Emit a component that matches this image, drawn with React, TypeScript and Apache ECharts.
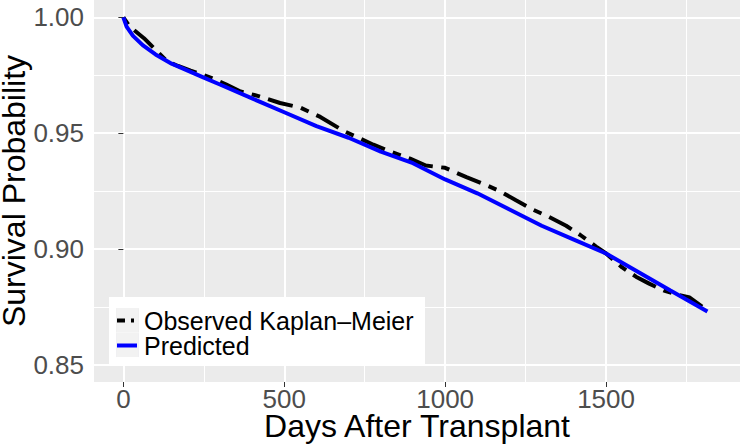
import React, { useEffect, useRef } from "react";
import * as echarts from "echarts";

const kmDays = [0, 20, 64, 100, 136, 170, 209, 271, 320, 364, 420, 487, 550, 612, 684, 730, 777, 830, 891, 940, 1000, 1066, 1120, 1169, 1220, 1272, 1320, 1376, 1420, 1469, 1500, 1550, 1593, 1634, 1680, 1727, 1760, 1799, 1815];
const kmSurv = [1.0, 0.996, 0.991, 0.986, 0.981, 0.979, 0.977, 0.974, 0.971, 0.968, 0.966, 0.963, 0.961, 0.957, 0.951, 0.948, 0.945, 0.942, 0.939, 0.936, 0.935, 0.931, 0.928, 0.925, 0.921, 0.917, 0.914, 0.91, 0.906, 0.901, 0.898, 0.892, 0.888, 0.885, 0.882, 0.88, 0.879, 0.875, 0.873];

const predDays = [0, 10, 30, 60, 100, 150, 200, 250, 300, 400, 500, 600, 700, 800, 900, 1000, 1100, 1200, 1300, 1400, 1500, 1600, 1700, 1815];
const predSurv = [1.0, 0.996, 0.992, 0.988, 0.984, 0.98, 0.977, 0.974, 0.971, 0.965, 0.959, 0.953, 0.948, 0.942, 0.937, 0.93, 0.924, 0.917, 0.91, 0.904, 0.898, 0.89, 0.882, 0.873];

const xTicks = [0, 500, 1000, 1500];
const xMinor = [250, 750, 1250, 1750];
const yTicks = [0.85, 0.9, 0.95, 1.0];
const yMinor = [0.875, 0.925, 0.975];
const seriesNames = ["Observed Kaplan\u2013Meier", "Predicted"];
const xTitle = "Days After Transplant";
const yTitle = "Survival Probability";

const FONT = "'Liberation Sans', Arial, sans-serif";

// legend key glyphs (with an invisible spacer so the bar keeps its thickness)
const ICON_DASH = "path://M0,0 L0.01,0 L0.01,24 L0,24 Z M1,10 L9,10 L9,14 L1,14 Z M15,10 L18,10 L18,14 L15,14 Z M23,0 L23.01,0 L23.01,24 L23,24 Z";
const ICON_SOLID = "path://M0,0 L0.01,0 L0.01,24 L0,24 Z M1,10 L21,10 L21,14 L1,14 Z M23,0 L23.01,0 L23.01,24 L23,24 Z";

export default function App() {
  const ref = useRef<HTMLDivElement>(null);
  useEffect(() => {
    if (!ref.current) return;
    const chart = echarts.init(ref.current, undefined, { renderer: "svg" });
    const xMin = -91.25, xMax = 1916.25, yMin = 0.8425, yMax = 1.0075;
    const hidden = { show: false };
    chart.setOption({
      animation: false,
      textStyle: { fontFamily: FONT },
      grid: { left: 94, right: 0, top: 0, bottom: 62, show: true, backgroundColor: "#EBEBEB", borderWidth: 0, containLabel: false, outerBoundsMode: "none" },
      xAxis: [
        {
          type: "value", min: xMin, max: xMax,
          axisLine: hidden,
          axisTick: { show: true, customValues: xTicks, length: 5, lineStyle: { color: "#333333", width: 1 } },
          axisLabel: { customValues: xTicks, fontSize: 26, color: "#4D4D4D", margin: 4, fontFamily: FONT, formatter: (v: number) => String(v) },
          splitLine: { show: true, lineStyle: { color: "#FFFFFF", width: 2 } },
          name: xTitle, nameLocation: "middle", nameGap: 28, nameMoveOverlap: false,
          nameTextStyle: { fontSize: 32, color: "#000000", fontFamily: FONT },
          z: 1,
        },
        {
          type: "value", min: xMin, max: xMax, position: "bottom",
          axisLine: hidden,
          axisTick: { show: false, customValues: xMinor },
          axisLabel: { show: false, customValues: xMinor },
          splitLine: { show: true, lineStyle: { color: "#FFFFFF", width: 1 } },
          z: 1,
        },
      ],
      yAxis: [
        {
          type: "value", min: yMin, max: yMax,
          axisLine: hidden,
          axisTick: { show: true, customValues: yTicks, length: 5, lineStyle: { color: "#333333", width: 1 } },
          axisLabel: { customValues: yTicks, fontSize: 26, color: "#4D4D4D", margin: 10, fontFamily: FONT, formatter: (v: number) => v.toFixed(2) },
          splitLine: { show: true, lineStyle: { color: "#FFFFFF", width: 2 } },
          name: yTitle, nameLocation: "middle", nameGap: 64, nameRotate: 90, nameMoveOverlap: false,
          nameTextStyle: { fontSize: 32, color: "#000000", fontFamily: FONT },
          z: 1,
        },
        {
          type: "value", min: yMin, max: yMax, position: "left",
          axisLine: hidden,
          axisTick: { show: false, customValues: yMinor },
          axisLabel: { show: false, customValues: yMinor },
          splitLine: { show: true, lineStyle: { color: "#FFFFFF", width: 1 } },
          z: 1,
        },
      ],
      legend: {
        orient: "vertical", left: 109, top: 297,
        padding: [11, 8, 8, 7],
        itemWidth: 23, itemHeight: 24.5, itemGap: 0,
        textStyle: { fontSize: 25, color: "#000000", fontFamily: FONT, lineHeight: 24 },
        itemStyle: { borderWidth: 0 },
        data: [
          { name: seriesNames[0], icon: ICON_DASH },
          { name: seriesNames[1], icon: ICON_SOLID },
        ],
        z: 6,
      },
      graphic: [
        { type: "rect", left: 109, top: 297, shape: { width: 316, height: 68 }, style: { fill: "#FFFFFF" }, z: 3 },
        { type: "rect", left: 116, top: 308, shape: { width: 23, height: 24.5 }, style: { fill: "#F2F2F2" }, z: 4 },
        { type: "rect", left: 116, top: 332.5, shape: { width: 23, height: 24.5 }, style: { fill: "#F2F2F2" }, z: 4 },
      ],
      series: [
        {
          name: seriesNames[0], type: "line", xAxisIndex: 0, yAxisIndex: 0,
          data: kmDays.map((d, i) => [d, kmSurv[i]]),
          showSymbol: false, symbol: "none",
          lineStyle: { color: "#000000", width: 4, type: [8.5, 8.5, 25.6, 8.5], cap: "butt" },
          itemStyle: { color: "#000000" },
          z: 2,
        },
        {
          name: seriesNames[1], type: "line", xAxisIndex: 0, yAxisIndex: 0,
          data: predDays.map((d, i) => [d, predSurv[i]]),
          showSymbol: false, symbol: "none",
          lineStyle: { color: "#0000FF", width: 4 },
          itemStyle: { color: "#0000FF" },
          z: 2,
        },
      ],
    });
    return () => chart.dispose();
  }, []);
  return <div ref={ref} style={{ width: 740, height: 444, position: "absolute", left: 0, top: 0 }} />;
}
